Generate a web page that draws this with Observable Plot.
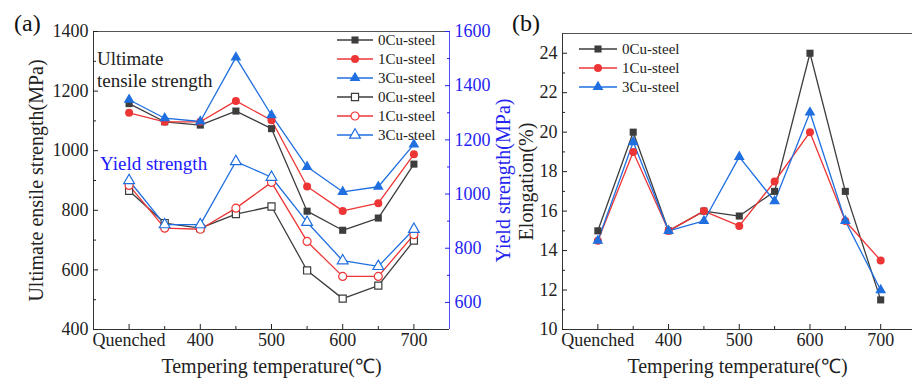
<!DOCTYPE html>
<html><head><meta charset="utf-8">
<script src="https://cdn.jsdelivr.net/npm/d3@7"></script>
<script src="https://cdn.jsdelivr.net/npm/@observablehq/plot@0.6"></script>
<style>
body{margin:0;background:#fff}
#wrap{position:relative;width:912px;height:379px;overflow:hidden;background:#fff}
#wrap svg{position:absolute;left:0;top:0}
</style></head>
<body><div id="wrap"></div>
<script>
// ---- data ----
const temps = [300, 350, 400, 450, 500, 550, 600, 650, 700]; // 300 = Quenched
const tickLabels = {300: "Quenched", 400: "400", 500: "500", 600: "600", 700: "700"};
const series = ["0Cu-steel", "1Cu-steel", "3Cu-steel"];
const uts0 = [1158, 1097, 1086, 1133, 1074, 797, 733, 774, 955];
const uts1 = [1127, 1097, 1097, 1167, 1102, 880, 798, 824, 988];
const uts3 = [1171, 1109, 1098, 1313, 1119, 946, 862, 879, 1021];
const ys0 = [1012, 893, 874, 926, 954, 718, 614, 662, 828];
const ys1 = [1032, 874, 870, 948, 1043, 825, 696, 696, 850];
const ys3 = [1050, 887, 887, 1120, 1062, 896, 754, 733, 870];
const el0 = [15, 20, 15, 16, 15.75, 17, 24, 17, 11.5];
const el1 = [14.5, 19, 15, 16, 15.25, 17.5, 20, 15.5, 13.5];
const el3 = [14.5, 19.5, 15, 15.5, 18.75, 16.5, 21, 15.5, 12];
const colors = ["#3d3d3d", "#ee3535", "#1f6fe0"];
const symbols = ["square", "circle", "triangle"];
const axisBlue = "#2424f0";

const tidy = arrs => arrs.flatMap((vals, i) => vals.map((v, j) => ({s: series[i], t: temps[j], v})));
const utsData = tidy([uts0, uts1, uts3]);
const ysData = tidy([ys0, ys1, ys3]);
const elData = tidy([el0, el1, el3]);

const W = 912, H = 379;
const FONT = "'Liberation Serif', serif";
const LABEL_SIZE = 20;
const wrap = document.getElementById("wrap");
function base(style) {
  return {
    width: W, height: H,
    style: {background: "transparent", fontFamily: FONT, fontSize: "18px", color: "#222", overflow: "visible", ...style},
    color: {domain: series, range: colors},
    symbol: {domain: series, range: symbols}
  };
}
const fmt = d => String(d);
const MA = {marginLeft: 93, marginRight: W - 449, marginTop: 31, marginBottom: H - 329};
const xTicks = [300, 400, 500, 600, 700], xMinor = [350, 450, 550, 650];
const xAxes = (label) => [
  Plot.axisX(xTicks, {tickSize: -5, tickFormat: () => "", label: null}),
  Plot.axisX(xMinor, {tickSize: -3, tickFormat: () => "", label: null}),
  Plot.axisX(xTicks, {tickSize: 0, tickPadding: 4, tickFormat: d => tickLabels[d], label: null}),
  Plot.axisX([], {tickSize: 0, fontSize: LABEL_SIZE, label, labelArrow: "none", labelAnchor: "center", labelOffset: 43})
];
const yAxes = (major, minor, label, offset, anchor = "left") => [
  Plot.axisY(major, {anchor, tickSize: -5, tickFormat: () => "", label: null}),
  Plot.axisY(minor, {anchor, tickSize: -3, tickFormat: () => "", label: null}),
  Plot.axisY(major, {anchor, tickSize: 0, tickPadding: 5, tickFormat: fmt, label: null}),
  Plot.axisY([], {anchor, tickSize: 0, fontSize: LABEL_SIZE, label, labelArrow: "none", labelAnchor: "center", labelOffset: offset})
];

// ---- panel (a), tensile strength, left axis ----
const pa = Plot.plot({
  ...base(), ...MA,
  x: {domain: [250, 750]},
  y: {domain: [400, 1400]},
  marks: [
    Plot.ruleY([1400], {stroke: "#555"}),
    Plot.ruleY([400], {stroke: "#333"}),
    Plot.ruleX([250], {stroke: "#333"}),
    ...xAxes("Tempering temperature(℃)"),
    ...yAxes(d3.range(400, 1401, 200), d3.range(500, 1400, 200), "Ultimate ensile strength(MPa)", 65),
    Plot.line(utsData, {x: "t", y: "v", stroke: "s", strokeWidth: 1.3}),
    Plot.dot(utsData, {x: "t", y: "v", symbol: "s", fill: "s", r: 4})
  ]
});
wrap.appendChild(pa);

// ---- panel (a), yield strength, right axis ----
const pb = Plot.plot({
  ...base({color: axisBlue}), ...MA,
  x: {domain: [250, 750], axis: null},
  y: {domain: [500, 1600]},
  marks: [
    Plot.ruleX([750], {stroke: "#5050ff"}),
    ...yAxes(d3.range(600, 1601, 200), d3.range(700, 1600, 200), "Yield strength(MPa)", 60, "right"),
    Plot.line(ysData, {x: "t", y: "v", stroke: "s", strokeWidth: 1.3}),
    Plot.dot(ysData, {x: "t", y: "v", symbol: "s", stroke: "s", fill: "white", strokeWidth: 1.2, r: 4})
  ]
});
wrap.appendChild(pb);

// ---- panel (b), elongation ----
const pc = Plot.plot({
  ...base(),
  marginLeft: 562, marginRight: 0, marginTop: 33, marginBottom: H - 329,
  x: {domain: [250, 745]},
  y: {domain: [10, 25]},
  marks: [
    Plot.ruleY([25], {stroke: "#555"}),
    Plot.ruleY([10], {stroke: "#333"}),
    Plot.ruleX([250], {stroke: "#333"}),
    ...xAxes("Tempering temperature(℃)"),
    ...yAxes(d3.range(10, 25, 2), d3.range(11, 25, 2), "Elongation(%)", 44),
    Plot.line(elData, {x: "t", y: "v", stroke: "s", strokeWidth: 1.3}),
    Plot.dot(elData, {x: "t", y: "v", symbol: "s", fill: "s", r: 4})
  ]
});
wrap.appendChild(pc);

// ---- legends & annotations ----
const symType = {square: d3.symbolSquare, circle: d3.symbolCircle, triangle: d3.symbolTriangle};
function legend(svg, rows, x0, x1, y0, step) {
  const g = d3.select(svg).append("g").attr("font-family", FONT).attr("font-size", 15).attr("text-anchor", "start");
  rows.forEach((r, i) => {
    const y = y0 + i * step, xm = (x0 + x1) / 2;
    g.append("line").attr("x1", x0).attr("x2", x1).attr("y1", y).attr("y2", y).attr("stroke", r.color).attr("stroke-width", 1.3);
    g.append("path").attr("d", d3.symbol(symType[r.symbol], Math.PI * 16)())
      .attr("transform", `translate(${xm},${y})`)
      .attr("fill", r.hollow ? "white" : r.color).attr("stroke", r.hollow ? r.color : "none").attr("stroke-width", 1.2);
    g.append("text").attr("x", x1 + 5).attr("y", y).attr("dy", "0.35em").attr("fill", "#222").text(r.name);
  });
}
const rowsA = [false, true].flatMap(h => series.map((s, i) => ({name: s, color: colors[i], symbol: symbols[i], hollow: h})));
legend(pb, rowsA, 337, 373, 40, 19);
legend(pc, series.map((s, i) => ({name: s, color: colors[i], symbol: symbols[i], hollow: false})), 579, 617, 49, 19);

function note(svg, x, y, txt, size, fill) {
  d3.select(svg).append("text").attr("x", x).attr("y", y).attr("font-family", FONT)
    .attr("text-anchor", "start").attr("font-size", size).attr("fill", fill).text(txt);
}
note(pb, 14, 31, "(a)", 24, "#111");
note(pc, 512, 31, "(b)", 24, "#111");
note(pb, 97, 65, "Ultimate", 19, "#222");
note(pb, 97, 87, "tensile strength", 19, "#222");
note(pb, 100, 170, "Yield strength", 19, "#1a1aff");
</script>
</body></html>
